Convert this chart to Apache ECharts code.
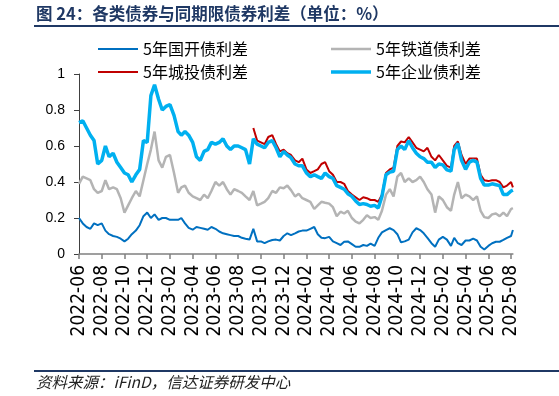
<!DOCTYPE html>
<html>
<head>
<meta charset="utf-8">
<script src="https://cdn.jsdelivr.net/npm/echarts@6/dist/echarts.min.js"></script>
<style>
html,body{margin:0;padding:0;background:#fff;}
#chart{width:559px;height:396px;}
</style>
</head>
<body>
<div id="chart"></div>
<script>
// ---- data ----
const titleText = '图 24：各类债券与同期限债券利差（单位：%）';
const sourceText = '资料来源：iFinD，信达证券研发中心';
const seriesNames = ['5年国开债利差', '5年铁道债利差', '5年城投债利差', '5年企业债利差'];
const tickLabels = ['2022-06','2022-08','2022-10','2022-12','2023-02','2023-04','2023-06','2023-08','2023-10','2023-12',
  '2024-02','2024-04','2024-06','2024-08','2024-10','2024-12','2025-02','2025-04','2025-06','2025-08'];
const yTicks = [0, 0.2, 0.4, 0.6, 0.8, 1];

const dates = [
 '2022-06-01','2022-06-11','2022-06-21','2022-07-01','2022-07-11','2022-07-21',
 '2022-08-01','2022-08-11','2022-08-21','2022-09-01','2022-09-11','2022-09-21',
 '2022-10-01','2022-10-11','2022-10-21','2022-11-01','2022-11-11','2022-11-21',
 '2022-12-01','2022-12-11','2022-12-21','2023-01-01','2023-01-11','2023-01-21',
 '2023-02-01','2023-02-11','2023-02-21','2023-03-01','2023-03-11','2023-03-21',
 '2023-04-01','2023-04-11','2023-04-21','2023-05-01','2023-05-11','2023-05-21',
 '2023-06-01','2023-06-11','2023-06-21','2023-07-01','2023-07-11','2023-07-21',
 '2023-08-01','2023-08-11','2023-08-21','2023-09-01','2023-09-11','2023-09-21',
 '2023-10-01','2023-10-11','2023-10-21','2023-11-01','2023-11-11','2023-11-21',
 '2023-12-01','2023-12-11','2023-12-21','2024-01-01','2024-01-11','2024-01-21',
 '2024-02-01','2024-02-11','2024-02-21','2024-03-01','2024-03-11','2024-03-21',
 '2024-04-01','2024-04-11','2024-04-21','2024-05-01','2024-05-11','2024-05-21',
 '2024-06-01','2024-06-11','2024-06-21','2024-07-01','2024-07-11','2024-07-21',
 '2024-08-01','2024-08-11','2024-08-21','2024-09-01','2024-09-11','2024-09-21',
 '2024-10-01','2024-10-11','2024-10-21','2024-11-01','2024-11-11','2024-11-21',
 '2024-12-01','2024-12-11','2024-12-21','2025-01-01','2025-01-11','2025-01-21',
 '2025-02-01','2025-02-11','2025-02-21','2025-03-01','2025-03-11','2025-03-21',
 '2025-04-01','2025-04-11','2025-04-21','2025-05-01','2025-05-11','2025-05-21',
 '2025-06-01','2025-06-11','2025-06-21','2025-07-01','2025-07-11','2025-07-21',
 '2025-08-01','2025-08-06'
];

const cdbSpread = [
 0.20,0.17,0.15,0.14,0.17,0.16, 0.17,0.13,0.11,0.10,0.095,0.085,
 0.07,0.085,0.11,0.13,0.16,0.21, 0.23,0.20,0.22,0.19,0.20,0.20,
 0.19,0.19,0.19,0.20,0.17,0.145, 0.135,0.15,0.145,0.14,0.135,0.15,
 0.14,0.125,0.115,0.11,0.105,0.10, 0.10,0.09,0.085,0.08,0.14,0.07,
 0.07,0.06,0.07,0.078,0.08,0.075, 0.10,0.115,0.105,0.115,0.125,0.13,
 0.13,0.14,0.15,0.11,0.09,0.088, 0.095,0.07,0.06,0.05,0.068,0.07,
 0.055,0.04,0.04,0.05,0.045,0.058, 0.045,0.09,0.12,0.133,0.143,0.133,
 0.11,0.065,0.07,0.08,0.12,0.143, 0.133,0.115,0.09,0.06,0.04,0.08,
 0.095,0.08,0.045,0.09,0.06,0.05, 0.075,0.075,0.085,0.075,0.04,0.025,
 0.045,0.06,0.068,0.068,0.078,0.09, 0.10,0.133
];

const railSpread = [
 0.39,0.43,0.42,0.41,0.36,0.34, 0.35,0.41,0.36,0.37,0.36,0.31,
 0.23,0.27,0.31,0.35,0.32,0.41, 0.50,0.58,0.68,0.52,0.48,0.54,
 0.55,0.45,0.34,0.37,0.38,0.34, 0.32,0.31,0.30,0.33,0.31,0.35,
 0.40,0.38,0.40,0.36,0.33,0.36, 0.35,0.34,0.32,0.30,0.35,0.27,
 0.28,0.29,0.31,0.35,0.34,0.37, 0.365,0.38,0.355,0.32,0.335,0.31,
 0.30,0.29,0.25,0.27,0.29,0.285, 0.28,0.26,0.21,0.235,0.225,0.24,
 0.20,0.18,0.17,0.19,0.215,0.20, 0.205,0.19,0.24,0.33,0.36,0.32,
 0.43,0.45,0.40,0.42,0.40,0.41, 0.43,0.40,0.36,0.33,0.23,0.32,
 0.30,0.26,0.24,0.33,0.40,0.31, 0.33,0.32,0.30,0.32,0.24,0.205,
 0.20,0.22,0.225,0.21,0.23,0.21, 0.25,0.255
];

const lgfvSpread = [
 null,null,null,null,null,null, null,null,null,null,null,null,
 null,null,null,null,null,null, null,null,null,null,null,null,
 null,null,null,null,null,null, null,null,null,null,null,null,
 null,null,null,null,null,null, null,null,null,null,0.70,0.63,
 0.62,0.61,0.65,0.66,0.61,0.57, 0.58,0.56,0.55,0.52,0.51,0.53,
 0.47,0.45,0.46,0.47,0.50,0.51, 0.46,0.44,0.40,0.40,0.39,0.35,
 0.33,0.315,0.30,0.315,0.31,0.30, 0.30,0.29,0.33,0.45,0.47,0.48,
 0.60,0.625,0.62,0.65,0.62,0.59, 0.58,0.57,0.59,0.54,0.52,0.55,
 0.52,0.49,0.48,0.60,0.625,0.55, 0.50,0.53,0.53,0.53,0.44,0.41,
 0.405,0.41,0.41,0.40,0.37,0.38, 0.40,0.37
];

const corpSpread = [
 0.73,0.74,0.70,0.66,0.63,0.50, 0.52,0.60,0.54,0.56,0.51,0.48,
 0.45,0.44,0.40,0.44,0.47,0.63, 0.62,0.88,0.94,0.86,0.80,0.82,
 0.83,0.77,0.68,0.66,0.68,0.66, 0.62,0.54,0.52,0.57,0.58,0.62,
 0.61,0.62,0.64,0.60,0.58,0.60, 0.60,0.59,0.58,0.50,0.64,0.61,
 0.60,0.59,0.62,0.63,0.59,0.54, 0.57,0.55,0.535,0.50,0.49,0.49,
 0.45,0.43,0.44,0.43,0.42,0.45, 0.43,0.42,0.38,0.37,0.36,0.335,
 0.32,0.295,0.275,0.28,0.275,0.265, 0.27,0.255,0.32,0.44,0.455,0.46,
 0.58,0.60,0.58,0.63,0.59,0.56, 0.54,0.53,0.51,0.51,0.48,0.50,
 0.495,0.467,0.46,0.58,0.615,0.52, 0.47,0.51,0.52,0.51,0.42,0.383,
 0.383,0.39,0.385,0.38,0.33,0.33, 0.35,0.355
];

// ---- helpers ----
function monthIndex(s) {
  const p = s.split('-').map(Number);
  const y = p[0], m = p[1], d = p[2] || 1;
  const dim = new Date(y, m, 0).getDate();
  return (y - 2022) * 12 + (m - 6) + (d - 1) / dim;
}
function pairs(vals) {
  const out = [];
  vals.forEach((v, i) => { if (v !== null) out.push([monthIndex(dates[i]), v]); });
  return out;
}
const tickValues = tickLabels.map(monthIndex);
const labelOf = {};
tickLabels.forEach((t, i) => { labelOf[tickValues[i].toFixed(3)] = t; });
const xMax = monthIndex(dates[dates.length - 1]);

const colors = ['#0070C0', '#B4B4B4', '#C00000', '#00B0F0'];
const widths = [2, 2.5, 2, 3.5];
const allVals = [cdbSpread, railSpread, lgfvSpread, corpSpread];

const chart = echarts.init(document.getElementById('chart'), null, {renderer: 'canvas'});
const legendFont = {fontSize: 16, color: '#000', fontFamily: '"Noto Sans CJK SC", sans-serif', lineHeight: 16};
const legendPos = [[93, 36], [326, 36], [93, 59], [326, 59]];

chart.setOption({
  animation: false,
  color: colors,
  grid: {left: 79, right: 559 - 79 - xMax * 11.37, top: 74, bottom: 142, containLabel: false},
  legend: seriesNames.map((n, i) => ({
    data: [{name: n, icon: 'rect', itemStyle: {color: colors[i]}}],
    left: legendPos[i][0], top: legendPos[i][1],
    itemWidth: 40, itemHeight: widths[i], textStyle: legendFont, selectedMode: false
  })),
  xAxis: {
    type: 'value', min: 0, max: xMax,
    splitLine: {show: false},
    axisLine: {lineStyle: {color: '#808080', width: 1.5}},
    axisTick: {show: true, length: 5, customValues: tickValues, lineStyle: {color: '#808080', width: 1.5}},
    axisLabel: {
      customValues: tickValues, rotate: 90, margin: 11, color: '#000',
      fontSize: 19, fontFamily: '"Liberation Sans Narrow", "DejaVu Sans Condensed", sans-serif',
      formatter: v => labelOf[v.toFixed(3)] || ''
    }
  },
  yAxis: {
    type: 'value', min: 0, max: 1, interval: 0.2,
    splitLine: {show: false},
    axisLine: {show: true, lineStyle: {color: '#404040', width: 1}},
    axisTick: {show: true, length: 5, lineStyle: {color: '#404040'}},
    axisLabel: {margin: 14, color: '#000', fontSize: 14, fontFamily: '"Liberation Sans", Arial, sans-serif',
      formatter: v => String(+v.toFixed(1))}
  },
  series: seriesNames.map((n, i) => ({
    name: n, type: 'line', data: pairs(allVals[i]),
    showSymbol: false, symbol: 'none',
    lineStyle: {color: colors[i], width: widths[i]},
    itemStyle: {color: colors[i]},
    z: 2 + i
  })),
  graphic: [
    {type: 'text', left: 36, top: 5, style: {text: titleText, fill: '#1F3864',
      font: 'bold 16.5px "Noto Sans CJK SC", sans-serif'}},
    {type: 'line', shape: {x1: 34, y1: 26, x2: 559, y2: 26}, style: {stroke: '#1F3864', lineWidth: 2}},
    {type: 'line', shape: {x1: 34, y1: 371, x2: 559, y2: 371}, style: {stroke: '#1F3864', lineWidth: 2}},
    {type: 'text', left: 36, top: 374, style: {text: sourceText, fill: '#222',
      font: 'italic 15.5px "Noto Sans CJK SC", sans-serif'}}
  ]
});
</script>
</body>
</html>
